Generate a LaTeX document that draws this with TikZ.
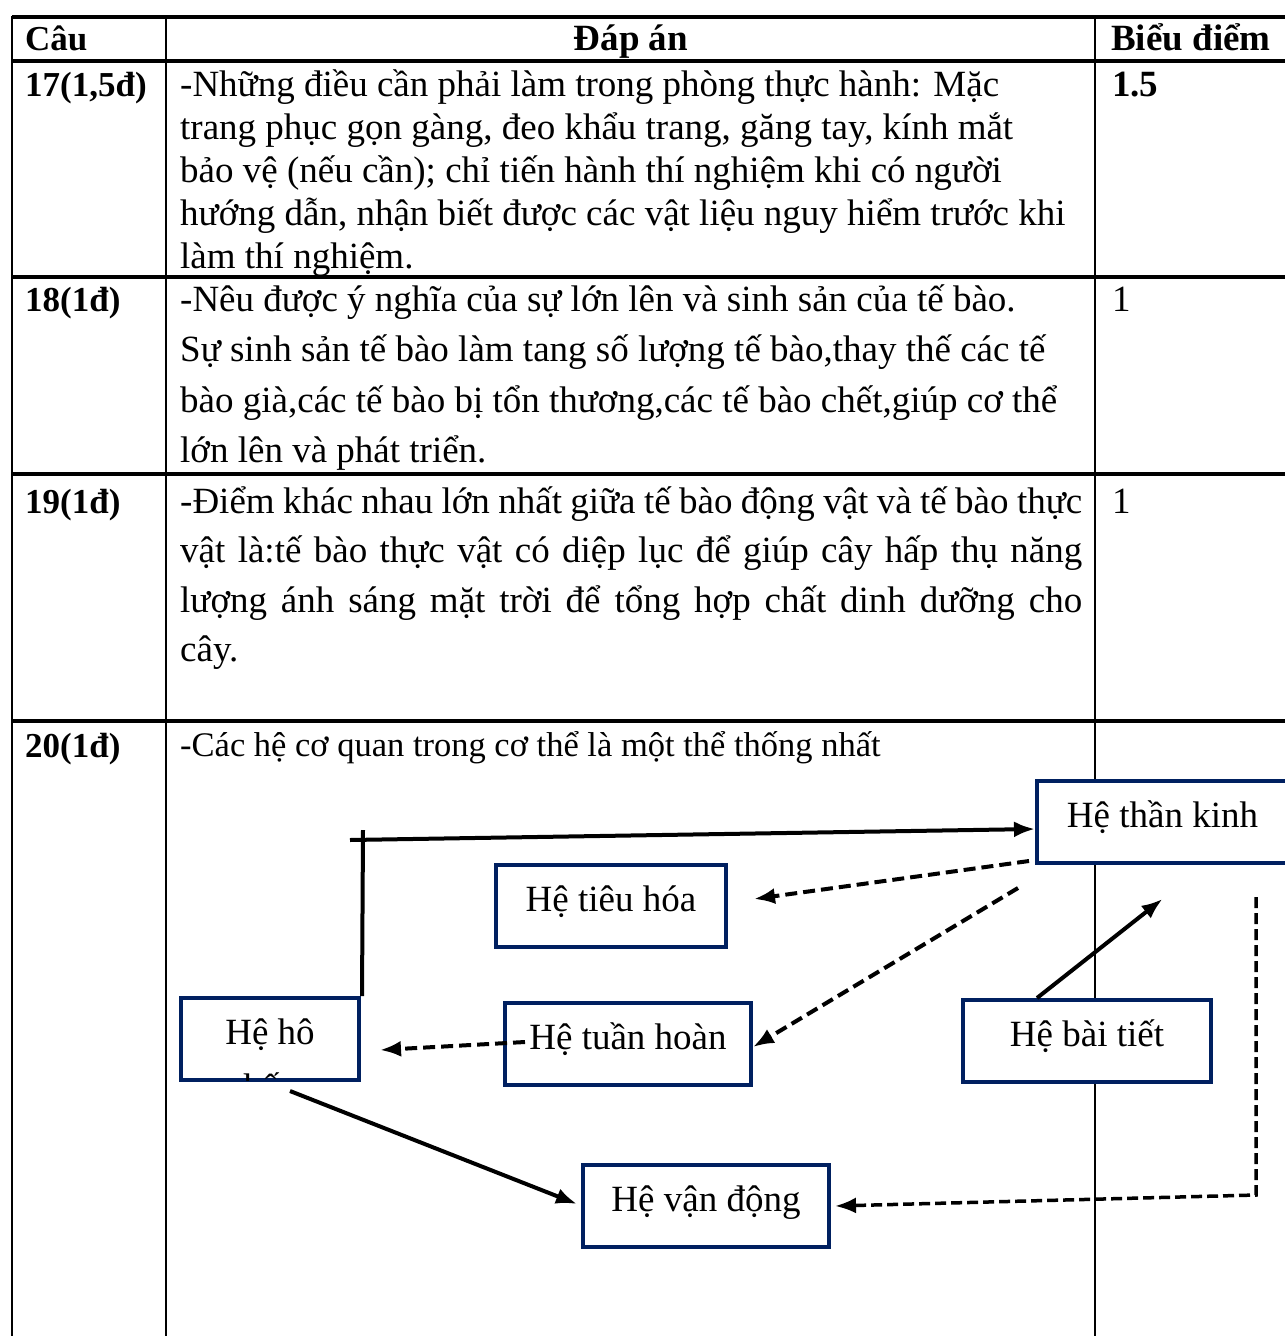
\documentclass[tikz,border=0pt]{standalone}
\usepackage{fontspec}
\setmainfont{Liberation Serif}
\usetikzlibrary{arrows.meta}
\usetikzlibrary{positioning}
\tikzset{>={Latex[length=21pt,width=16pt]}}
\definecolor{boxnavy}{RGB}{0,32,96}
\newcommand{\cellstrut}{\rule{0pt}{40pt}}
\tikzset{
  rowline/.style={line width=4pt},
  colline/.style={line width=2.8pt},
  cell/.style={inner sep=0pt, anchor=north west},
  label/.style={inner sep=0pt, anchor=base west},
  qlabel/.style={label, font=\fontsize{35}{43}\selectfont\bfseries},
  sysbox/.style={draw=boxnavy, line width=4pt, fill=white, inner sep=0pt,
    text height=46pt, text depth=36pt, font=\fontsize{37}{44}\selectfont},
  link/.style={line width=4pt},
  dlink/.style={line width=4pt, dash pattern=on 12pt off 6pt},
}

\begin{document}
\begin{tikzpicture}[x=1pt, y=-1pt, font=\fontsize{37}{43}\selectfont]
    \useasboundingbox (0,0) rectangle (1285,1336);

    % Draw the table rules.
    \foreach \y in {17, 61, 277, 474, 721}
      \draw[rowline] (12,\y) -- (1285,\y);
    \foreach \x in {12, 166, 1095}
      \draw[colline] (\x,16) -- (\x,1336);

    % Header row.
    \node[qlabel] (hcau) at (25,50) {Câu};
    \node[inner sep=0pt, anchor=base] (hdapan) at (631,50) {\textbf{Đáp án}};
    \node[label] (hdiem) at (1111,50) {\textbf{Biểu điểm}};

    % Question 17.
    \node[qlabel] (q17) at (25,96) {17(1,5đ)};
    \node[cell, align=left] (a17) at (180,56) {\cellstrut-Những điều cần phải làm trong phòng thực hành: Mặc\\
      trang phục gọn gàng, đeo khẩu trang, găng tay, kính mắt\\
      bảo vệ (nếu cần); chỉ tiến hành thí nghiệm khi có người\\
      hướng dẫn, nhận biết được các vật liệu nguy hiểm trước khi\\
      làm thí nghiệm.};
    \node[label] (d17) at (1112,96) {\textbf{1.5}};

    % Question 18.
    \node[qlabel] (q18) at (25,311) {18(1đ)};
    \node[cell, align=left, font=\fontsize{37}{50.5}\selectfont] (a18) at (180,271) {\cellstrut-Nêu được ý nghĩa của sự lớn lên và sinh sản của tế bào.\\
      Sự sinh sản tế bào làm tang số lượng tế bào,thay thế các tế\\
      bào già,các tế bào bị tổn thương,các tế bào chết,giúp cơ thể\\
      lớn lên và phát triển.};
    \node[label] (d18) at (1112,311) {1};

    % Question 19.
    \node[qlabel] (q19) at (25,513) {19(1đ)};
    \node[cell, text width=902pt, align=justify, font=\fontsize{37}{49.5}\selectfont] (a19) at (180,473) {\cellstrut-Điểm khác nhau lớn nhất giữa tế bào động vật và tế bào thực\linebreak
      vật là:tế bào thực vật có diệp lục để giúp cây hấp thụ năng\linebreak
      lượng ánh sáng mặt trời để tổng hợp chất dinh dưỡng cho\linebreak
      cây.};
    \node[label] (d19) at (1112,513) {1};

    % Question 20.
    \node[qlabel] (q20) at (25,757) {20(1đ)};
    \node[label, font=\fontsize{34.5}{40}\selectfont] (a20) at (180,756) {-Các hệ cơ quan trong cơ thể là một thể thống nhất};

    % Draw the organ system boxes.
    \node[sysbox, minimum width=251pt, anchor=north] (thankinh) at (1162.5,779) {Hệ thần kinh};
    \node[sysbox, minimum width=230pt, anchor=north] (tieuhoa) at (611,863) {Hệ tiêu hóa};
    \node[sysbox, minimum width=178pt, anchor=north] (hohap) at (270,996) {Hệ hô};
    \node[sysbox, minimum width=246pt, anchor=north] (tuanhoan) at (628,1001) {Hệ tuần hoàn};
    \node[sysbox, minimum width=248pt, anchor=north] (baitiet) at (1087,998) {Hệ bài tiết};
    \node[sysbox, minimum width=246pt, anchor=north] (vandong) at (706,1163) {Hệ vận động};
    \begin{scope}
      \clip ([xshift=2pt,yshift=-2pt]hohap.north west) rectangle ([xshift=-2pt,yshift=2pt]hohap.south east);
      \node[inner sep=0pt, anchor=base, font=\fontsize{37}{44}\selectfont] (hohap2) at ([yshift=-55pt]hohap.base) {hấp};
    \end{scope}

    % Draw the links between the systems.
    \coordinate (bend) at (363,830);
    \coordinate (tail) at (350,840);
    \coordinate (tkfork) at (1018,888);
    \coordinate (rtop) at (1256,897);
    \coordinate (rcorner) at (1256,1195);
    \draw[link] ([xshift=1pt]hohap.north east) -- (bend);
    \draw[link, ->] (tail) -- ([yshift=-7pt]thankinh.west);
    \draw[dlink, ->] ([xshift=-6pt,yshift=4pt]thankinh.south west) -- ([xshift=26pt,yshift=7pt]tieuhoa.east);
    \draw[dlink, ->] (tkfork) -- ([yshift=-3pt]tuanhoan.east);
    \draw[dlink, ->] ([xshift=22pt,yshift=2pt]tuanhoan.west) -- ([xshift=19pt,yshift=-11pt]hohap.east);
    \draw[link, ->] ([xshift=-50pt]baitiet.north) -- ([yshift=-34pt]thankinh.south);
    \draw[link, ->] ([xshift=20pt,yshift=-9pt]hohap.south) -- ([xshift=-4pt,yshift=2pt]vandong.west);
    \draw[dlink, line width=3.5pt, dash pattern=on 11pt off 5pt, ->] (rtop) -- (rcorner) -- ([xshift=4pt]vandong.east);
\end{tikzpicture}
\end{document}
